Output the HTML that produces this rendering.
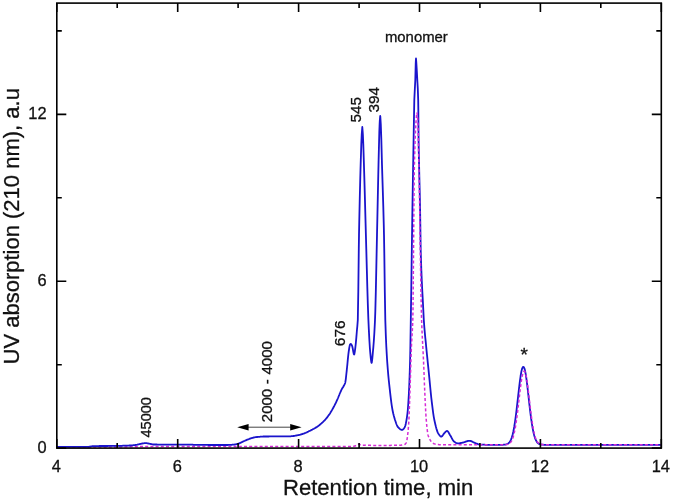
<!DOCTYPE html>
<html><head><meta charset="utf-8"><title>Chromatogram</title>
<style>
html,body{margin:0;padding:0;background:#fff;}
svg{display:block;font-family:"Liberation Sans",Arial,sans-serif;fill:#111;}
text{stroke:#111;stroke-width:0.3px;}
</style></head>
<body>
<svg width="675" height="504" viewBox="0 0 675 504">
<rect width="675" height="504" fill="#fff"/>
<path d="M56.8,447.1 L120.0,447.0 L150.0,446.4 L350.0,446.4 L350.5,446.4 L351.0,446.4 L351.5,446.4 L352.0,446.4 L352.5,446.4 L353.0,446.3 L353.5,446.3 L354.0,446.2 L354.5,446.1 L355.0,446.0 L355.5,445.8 L356.0,445.4 L356.5,445.1 L357.0,444.7 L357.3,444.6 L357.5,444.5 L358.0,444.4 L358.5,444.2 L359.0,444.2 L359.5,444.3 L360.0,444.6 L360.5,444.9 L361.0,445.1 L361.5,445.1 L362.0,445.1 L362.5,445.2 L363.0,445.2 L363.5,445.2 L364.0,445.2 L364.5,445.2 L365.0,445.2 L365.5,445.2 L366.0,445.3 L366.5,445.3 L367.0,445.3 L367.5,445.3 L368.0,445.3 L368.5,445.3 L369.0,445.3 L369.5,445.3 L370.0,445.3 L370.5,445.3 L371.0,445.4 L371.5,445.4 L372.0,445.4 L372.5,445.4 L373.0,445.4 L373.5,445.4 L374.0,445.4 L374.5,445.4 L375.0,445.4 L375.5,445.4 L376.0,445.4 L376.5,445.4 L377.0,445.4 L377.5,445.4 L378.0,445.4 L378.5,445.4 L379.0,445.4 L379.5,445.4 L380.0,445.4 L380.5,445.4 L381.0,445.4 L381.5,445.4 L382.0,445.4 L382.5,445.4 L383.0,445.4 L383.5,445.4 L384.0,445.4 L384.5,445.4 L385.0,445.4 L385.5,445.4 L386.0,445.4 L386.5,445.4 L387.0,445.4 L387.5,445.4 L388.0,445.4 L388.5,445.4 L389.0,445.4 L389.5,445.4 L390.0,445.4 L390.5,445.4 L391.0,445.3 L391.5,445.3 L392.0,445.3 L392.5,445.3 L393.0,445.3 L393.5,445.3 L394.0,445.3 L394.5,445.3 L395.0,445.3 L395.5,445.3 L396.0,445.3 L396.5,445.3 L397.0,445.3 L397.5,445.3 L398.0,445.2 L398.5,445.2 L399.0,445.2 L399.5,445.2 L400.0,445.2 L400.5,445.2 L401.0,445.2 L401.5,445.1 L402.0,445.1 L402.5,445.0 L403.0,444.9 L403.5,444.9 L404.0,444.7 L404.5,444.6 L404.6,444.6" fill="none" stroke="#d62cd6" stroke-width="1.5" stroke-dasharray="3 2.2"/>
<path d="M56.8,446.8 L57.3,446.8 L57.8,446.8 L58.3,446.8 L58.8,446.8 L59.3,446.8 L59.8,446.8 L60.3,446.8 L60.8,446.8 L61.3,446.8 L61.8,446.8 L62.3,446.8 L62.8,446.8 L63.3,446.8 L63.8,446.8 L64.3,446.8 L64.8,446.8 L65.3,446.8 L65.8,446.8 L66.3,446.8 L66.8,446.8 L67.3,446.8 L67.8,446.8 L68.3,446.8 L68.8,446.8 L69.3,446.8 L69.8,446.8 L70.3,446.8 L70.8,446.8 L71.3,446.8 L71.8,446.8 L72.3,446.8 L72.8,446.8 L73.3,446.8 L73.8,446.8 L74.3,446.8 L74.8,446.8 L75.3,446.8 L75.8,446.8 L76.3,446.8 L76.8,446.8 L77.3,446.8 L77.8,446.8 L78.3,446.8 L78.8,446.8 L79.3,446.8 L79.8,446.8 L80.3,446.8 L80.8,446.8 L81.3,446.8 L81.8,446.8 L82.3,446.8 L82.8,446.8 L83.3,446.8 L83.8,446.8 L84.3,446.8 L84.8,446.8 L85.3,446.8 L85.8,446.8 L86.3,446.8 L86.8,446.8 L87.3,446.8 L87.8,446.8 L88.0,446.8 L88.3,446.8 L88.8,446.8 L89.3,446.7 L89.8,446.6 L90.3,446.6 L90.8,446.5 L91.3,446.4 L91.8,446.3 L92.3,446.2 L92.8,446.2 L93.0,446.2 L93.3,446.2 L93.8,446.2 L94.3,446.2 L94.8,446.1 L95.3,446.1 L95.8,446.1 L96.3,446.1 L96.8,446.1 L97.3,446.1 L97.8,446.1 L98.3,446.1 L98.8,446.1 L99.3,446.0 L99.8,446.0 L100.3,446.0 L100.8,446.0 L101.3,446.0 L101.8,446.0 L102.3,446.0 L102.8,446.0 L103.3,446.0 L103.8,446.0 L104.3,446.0 L104.8,446.0 L105.3,446.0 L105.8,446.0 L106.3,446.0 L106.8,446.0 L107.3,446.0 L107.8,446.0 L108.3,445.9 L108.8,445.9 L109.3,445.9 L109.8,445.9 L110.3,445.9 L110.8,445.9 L111.3,445.9 L111.8,445.9 L112.3,445.9 L112.8,445.9 L113.3,445.9 L113.8,445.9 L114.3,445.9 L114.8,445.9 L115.3,445.9 L115.8,445.9 L116.3,445.9 L116.8,445.9 L117.3,445.8 L117.8,445.8 L118.3,445.8 L118.8,445.8 L119.3,445.8 L119.8,445.8 L120.0,445.8 L120.3,445.8 L120.8,445.8 L121.3,445.8 L121.8,445.8 L122.3,445.8 L122.8,445.7 L123.3,445.7 L123.8,445.7 L124.3,445.7 L124.8,445.7 L125.3,445.7 L125.8,445.7 L126.3,445.6 L126.8,445.6 L127.3,445.6 L127.8,445.6 L128.3,445.6 L128.8,445.6 L129.3,445.5 L129.8,445.5 L130.0,445.5 L130.3,445.5 L130.8,445.5 L131.3,445.4 L131.8,445.4 L132.3,445.3 L132.8,445.3 L133.3,445.2 L133.8,445.2 L134.3,445.1 L134.8,445.1 L135.3,445.0 L135.8,444.9 L136.0,444.9 L136.3,444.9 L136.8,444.8 L137.3,444.7 L137.8,444.5 L138.3,444.4 L138.8,444.3 L139.3,444.2 L139.8,444.1 L140.3,443.9 L140.8,443.8 L141.0,443.8 L141.3,443.7 L141.8,443.6 L142.3,443.5 L142.8,443.4 L143.3,443.3 L143.8,443.3 L144.3,443.2 L144.8,443.1 L145.3,443.1 L145.5,443.1 L145.8,443.1 L146.3,443.1 L146.8,443.2 L147.3,443.3 L147.8,443.4 L148.3,443.5 L148.8,443.6 L149.3,443.7 L149.8,443.8 L150.0,443.8 L150.3,443.9 L150.8,444.0 L151.3,444.1 L151.8,444.2 L152.3,444.3 L152.8,444.4 L153.3,444.5 L153.8,444.5 L154.0,444.5 L154.3,444.5 L154.8,444.5 L155.3,444.5 L155.8,444.5 L156.3,444.5 L156.8,444.5 L157.3,444.6 L157.8,444.6 L158.3,444.6 L158.8,444.6 L159.3,444.6 L159.8,444.6 L160.3,444.6 L160.8,444.6 L161.3,444.6 L161.8,444.6 L162.3,444.6 L162.8,444.6 L163.3,444.6 L163.8,444.6 L164.3,444.6 L164.8,444.6 L165.0,444.6 L165.3,444.6 L165.8,444.6 L166.3,444.6 L166.8,444.6 L167.3,444.6 L167.8,444.6 L168.3,444.6 L168.8,444.6 L169.3,444.6 L169.8,444.6 L170.3,444.6 L170.8,444.6 L171.3,444.6 L171.8,444.6 L172.3,444.6 L172.8,444.6 L173.3,444.6 L173.8,444.6 L174.3,444.6 L174.8,444.6 L175.3,444.6 L175.8,444.6 L176.3,444.6 L176.8,444.6 L177.3,444.6 L177.8,444.6 L178.3,444.6 L178.8,444.6 L179.3,444.6 L179.8,444.6 L180.3,444.6 L180.8,444.6 L181.3,444.6 L181.8,444.6 L182.3,444.6 L182.8,444.6 L183.3,444.6 L183.8,444.6 L184.3,444.6 L184.8,444.6 L185.0,444.6 L185.3,444.6 L185.8,444.6 L186.3,444.6 L186.8,444.6 L187.3,444.6 L187.8,444.6 L188.3,444.6 L188.8,444.6 L189.3,444.7 L189.8,444.7 L190.3,444.7 L190.8,444.7 L191.3,444.7 L191.8,444.7 L192.3,444.7 L192.8,444.7 L193.3,444.8 L193.8,444.8 L194.3,444.8 L194.8,444.8 L195.3,444.8 L195.8,444.8 L196.3,444.8 L196.8,444.9 L197.3,444.9 L197.8,444.9 L198.3,444.9 L198.8,444.9 L199.3,444.9 L199.8,444.9 L200.0,444.9 L200.3,444.9 L200.8,444.9 L201.3,444.9 L201.8,444.9 L202.3,444.9 L202.8,444.9 L203.3,444.9 L203.8,444.9 L204.3,444.9 L204.8,444.9 L205.3,444.9 L205.8,444.9 L206.3,444.9 L206.8,444.9 L207.3,444.9 L207.8,444.9 L208.3,445.0 L208.8,445.0 L209.3,445.0 L209.8,445.0 L210.3,445.0 L210.8,445.0 L211.3,445.0 L211.8,445.0 L212.3,445.0 L212.8,445.0 L213.3,445.0 L213.8,445.0 L214.3,445.0 L214.8,445.0 L215.3,445.0 L215.8,445.0 L216.3,445.0 L216.8,445.0 L217.3,445.0 L217.8,445.0 L218.3,445.0 L218.8,445.0 L219.3,445.0 L219.8,445.0 L220.3,445.0 L220.8,445.0 L221.3,445.0 L221.8,445.0 L222.3,445.0 L222.8,445.0 L223.3,445.0 L223.8,445.0 L224.3,445.0 L224.8,445.0 L225.0,445.0 L225.3,445.0 L225.8,445.0 L226.3,445.0 L226.8,445.0 L227.3,445.0 L227.8,445.0 L228.3,444.9 L228.8,444.9 L229.3,444.9 L229.8,444.9 L230.3,444.9 L230.8,444.8 L231.3,444.8 L231.8,444.8 L232.3,444.7 L232.8,444.7 L233.0,444.7 L233.3,444.7 L233.8,444.6 L234.3,444.6 L234.8,444.5 L235.3,444.4 L235.8,444.3 L236.3,444.2 L236.8,444.1 L237.3,444.0 L237.8,443.9 L238.0,443.8 L238.3,443.7 L238.8,443.6 L239.3,443.4 L239.8,443.1 L240.3,442.9 L240.8,442.7 L241.3,442.4 L241.8,442.2 L242.3,441.9 L242.8,441.7 L243.0,441.6 L243.3,441.5 L243.8,441.2 L244.3,441.0 L244.8,440.8 L245.3,440.5 L245.8,440.3 L246.3,440.1 L246.8,439.9 L247.3,439.7 L247.8,439.4 L248.3,439.3 L248.8,439.1 L249.0,439.0 L249.3,438.9 L249.8,438.7 L250.3,438.6 L250.8,438.4 L251.3,438.2 L251.8,438.1 L252.3,437.9 L252.8,437.8 L253.3,437.6 L253.8,437.5 L254.3,437.4 L254.8,437.3 L255.3,437.2 L255.5,437.2 L255.8,437.2 L256.3,437.1 L256.8,437.0 L257.3,437.0 L257.8,436.9 L258.3,436.9 L258.8,436.8 L259.3,436.8 L259.8,436.8 L260.3,436.7 L260.8,436.7 L261.3,436.7 L261.8,436.6 L262.3,436.6 L262.8,436.6 L263.3,436.5 L263.8,436.5 L264.3,436.5 L264.8,436.5 L265.0,436.5 L265.3,436.5 L265.8,436.5 L266.3,436.5 L266.8,436.5 L267.3,436.5 L267.8,436.5 L268.3,436.5 L268.8,436.5 L269.3,436.4 L269.8,436.4 L270.3,436.4 L270.8,436.4 L271.3,436.4 L271.8,436.4 L272.3,436.4 L272.8,436.4 L273.3,436.4 L273.8,436.4 L274.3,436.4 L274.8,436.4 L275.3,436.4 L275.8,436.4 L276.3,436.4 L276.8,436.4 L277.3,436.4 L277.8,436.4 L278.3,436.4 L278.8,436.4 L279.3,436.4 L279.8,436.4 L280.3,436.4 L280.8,436.4 L281.3,436.4 L281.8,436.4 L282.3,436.4 L282.8,436.4 L283.3,436.4 L283.8,436.4 L284.3,436.4 L284.8,436.4 L285.3,436.4 L285.8,436.4 L286.3,436.4 L286.8,436.3 L287.3,436.3 L287.8,436.3 L288.3,436.3 L288.8,436.3 L289.3,436.3 L289.8,436.3 L290.0,436.3 L290.3,436.3 L290.8,436.3 L291.3,436.2 L291.8,436.2 L292.3,436.2 L292.8,436.1 L293.3,436.0 L293.8,436.0 L294.3,435.9 L294.8,435.8 L295.3,435.7 L295.8,435.6 L296.3,435.5 L296.8,435.4 L297.3,435.3 L297.8,435.2 L298.3,435.1 L298.5,435.1 L298.8,435.0 L299.3,434.9 L299.8,434.8 L300.3,434.7 L300.8,434.5 L301.3,434.4 L301.8,434.2 L302.3,434.1 L302.8,433.9 L303.3,433.7 L303.8,433.6 L304.0,433.5 L304.3,433.4 L304.8,433.2 L305.3,433.0 L305.8,432.8 L306.3,432.5 L306.8,432.3 L307.3,432.1 L307.8,431.8 L308.3,431.6 L308.8,431.3 L309.3,431.0 L309.6,430.9 L309.8,430.8 L310.3,430.6 L310.8,430.3 L311.3,430.1 L311.8,429.8 L312.3,429.6 L312.8,429.3 L313.3,429.0 L313.8,428.8 L314.3,428.5 L314.8,428.2 L315.3,427.9 L315.8,427.7 L316.3,427.3 L316.8,427.0 L317.0,426.9 L317.3,426.7 L317.8,426.3 L318.3,426.0 L318.8,425.6 L319.3,425.2 L319.8,424.8 L320.3,424.3 L320.8,423.9 L321.3,423.5 L321.5,423.3 L321.8,423.0 L322.3,422.6 L322.8,422.2 L323.3,421.7 L323.8,421.2 L324.3,420.7 L324.4,420.6 L324.8,420.2 L325.3,419.6 L325.8,419.0 L326.3,418.4 L326.8,417.8 L327.3,417.2 L327.8,416.5 L328.3,415.8 L328.8,415.1 L328.9,415.0 L329.3,414.4 L329.8,413.7 L330.3,412.9 L330.8,412.0 L331.3,411.2 L331.8,410.3 L332.0,410.0 L332.3,409.5 L332.8,408.6 L333.3,407.7 L333.8,406.8 L334.3,405.9 L334.8,404.9 L335.3,403.9 L335.5,403.5 L335.8,402.9 L336.3,401.8 L336.8,400.7 L337.3,399.6 L337.8,398.5 L338.0,398.0 L338.3,397.3 L338.8,396.0 L339.3,394.8 L339.8,393.5 L340.2,392.6 L340.3,392.4 L340.8,391.3 L341.3,390.2 L341.8,389.2 L342.0,388.8 L342.3,388.3 L342.8,387.5 L343.3,386.7 L343.8,385.8 L344.3,384.9 L344.8,383.9 L345.2,382.8 L345.3,382.4 L345.8,379.1 L346.3,374.5 L346.7,370.8 L346.8,369.9 L347.3,365.0 L347.8,359.7 L348.3,354.9 L348.7,351.7 L348.8,351.0 L349.3,347.6 L349.8,345.1 L350.0,344.6 L350.3,344.2 L350.7,343.9 L350.8,343.9 L351.3,344.4 L351.8,345.3 L352.2,346.2 L352.3,346.5 L352.8,348.8 L353.3,351.8 L353.8,354.1 L354.1,354.6 L354.3,354.3 L354.8,351.7 L355.3,347.8 L355.4,347.0 L355.8,343.4 L356.3,337.9 L356.8,331.8 L357.0,329.5 L357.3,326.5 L357.8,320.0 L358.3,291.3 L358.8,248.3 L359.0,235.0 L359.3,219.5 L359.8,196.7 L360.3,177.1 L360.5,170.0 L360.8,159.7 L361.3,144.1 L361.7,135.0 L361.8,133.2 L362.3,127.0 L362.8,133.2 L362.9,135.0 L363.3,144.4 L363.8,160.1 L364.1,170.0 L364.3,176.6 L364.8,194.4 L365.3,213.1 L365.8,231.5 L365.9,235.0 L366.3,249.5 L366.8,268.3 L367.3,286.7 L367.8,303.5 L368.3,317.6 L368.4,320.0 L368.8,328.9 L369.3,338.8 L369.8,347.0 L370.2,352.0 L370.3,353.1 L370.8,358.4 L371.3,362.2 L371.6,362.9 L371.8,362.5 L372.3,358.7 L372.8,353.1 L372.9,352.0 L373.3,347.6 L373.8,341.3 L374.3,333.7 L374.8,324.3 L375.0,320.0 L375.3,311.7 L375.8,292.2 L376.3,268.5 L376.8,244.2 L377.0,235.0 L377.3,221.1 L377.8,196.9 L378.3,173.5 L378.5,165.0 L378.8,152.3 L379.3,132.6 L379.6,124.5 L379.8,120.6 L380.2,116.0 L380.3,116.4 L380.8,124.5 L381.3,138.8 L381.8,157.8 L382.0,165.0 L382.3,174.9 L382.8,190.6 L383.3,207.0 L383.8,226.1 L384.0,235.0 L384.3,252.9 L384.8,291.0 L385.3,320.0 L385.8,334.9 L386.3,346.3 L386.8,355.3 L387.1,360.0 L387.3,362.9 L387.8,369.5 L388.3,375.3 L388.8,380.5 L389.3,385.2 L389.8,389.7 L390.3,394.1 L390.8,398.3 L391.3,402.3 L391.8,405.8 L392.3,408.9 L392.5,410.0 L392.8,411.5 L393.3,413.8 L393.8,415.8 L394.3,417.6 L394.8,419.3 L395.2,420.5 L395.3,420.8 L395.8,422.3 L396.3,423.7 L396.8,425.0 L397.3,426.1 L397.8,426.9 L397.9,427.0 L398.3,427.4 L398.8,428.0 L399.3,428.4 L399.8,428.9 L400.3,429.3 L400.8,429.5 L401.3,429.8 L401.8,429.9 L402.1,429.9 L402.3,429.9 L402.8,429.7 L403.3,429.2 L403.8,428.6 L404.3,427.9 L404.7,427.2 L404.8,427.0 L405.3,425.7 L405.8,423.7 L406.3,421.1 L406.8,418.1 L407.3,414.6 L407.4,413.8 L407.8,410.0 L408.3,403.3 L408.8,395.0 L409.3,384.5 L409.8,370.5 L410.1,360.0 L410.3,350.7 L410.8,320.0 L411.3,286.7 L411.8,250.9 L412.3,216.4 L412.4,210.0 L412.8,185.8 L413.3,157.1 L413.6,140.0 L413.8,127.4 L414.3,100.0 L414.8,89.7 L415.3,80.0 L415.7,64.0 L415.8,61.5 L416.0,58.5 L416.3,62.3 L416.4,64.0 L416.8,70.6 L417.3,80.0 L417.8,88.7 L418.2,100.0 L418.3,107.2 L418.6,140.0 L418.8,152.4 L419.3,175.3 L419.8,195.2 L420.1,210.0 L420.3,223.7 L420.7,250.0 L420.8,253.7 L421.3,269.4 L421.8,281.4 L422.3,291.2 L422.8,300.3 L423.3,310.0 L423.8,320.0 L424.3,326.9 L424.8,332.7 L425.3,337.8 L425.8,342.7 L426.2,346.8 L426.3,347.8 L426.8,353.0 L427.3,357.9 L427.8,362.8 L428.3,367.7 L428.8,372.6 L428.9,373.6 L429.3,377.6 L429.8,382.8 L430.3,388.0 L430.8,393.1 L431.3,397.8 L431.6,400.4 L431.8,402.1 L432.3,406.2 L432.8,410.2 L433.3,413.8 L433.8,417.1 L434.2,419.2 L434.3,419.7 L434.8,422.0 L435.3,424.2 L435.8,426.3 L436.3,428.2 L436.8,429.9 L437.3,431.4 L437.8,432.6 L438.3,433.5 L438.8,434.3 L439.3,435.0 L439.8,435.6 L440.3,436.1 L440.8,436.5 L441.3,436.6 L441.8,436.4 L442.3,436.0 L442.8,435.3 L443.3,434.6 L443.8,433.8 L444.3,433.2 L444.5,433.0 L444.8,432.7 L445.3,432.1 L445.8,431.6 L446.3,431.2 L446.8,430.9 L447.0,430.9 L447.3,431.0 L447.8,431.4 L448.3,432.0 L448.8,432.8 L449.3,433.8 L449.8,434.7 L450.3,435.5 L450.8,436.3 L451.3,437.2 L451.8,438.2 L452.3,439.1 L452.8,440.0 L453.3,440.7 L453.8,441.3 L454.0,441.5 L454.3,441.7 L454.8,442.1 L455.3,442.4 L455.8,442.8 L456.3,443.0 L456.8,443.2 L457.3,443.4 L457.8,443.4 L458.3,443.4 L458.8,443.3 L459.3,443.3 L459.8,443.2 L460.3,443.1 L460.8,443.0 L461.3,442.9 L461.8,442.8 L462.0,442.8 L462.3,442.7 L462.8,442.6 L463.3,442.5 L463.8,442.3 L464.3,442.2 L464.8,442.0 L465.3,441.8 L465.8,441.6 L466.3,441.4 L466.8,441.3 L467.3,441.1 L467.8,441.0 L468.3,440.9 L468.8,440.8 L469.3,440.8 L469.5,440.8 L469.8,440.8 L470.3,440.9 L470.8,441.0 L471.3,441.2 L471.8,441.4 L472.3,441.7 L472.8,441.9 L473.3,442.2 L473.8,442.5 L474.3,442.7 L474.8,442.9 L475.0,443.0 L475.3,443.1 L475.8,443.3 L476.3,443.5 L476.8,443.7 L477.3,443.9 L477.8,444.1 L478.3,444.3 L478.8,444.4 L479.3,444.5 L479.8,444.6 L480.0,444.6 L480.3,444.6 L480.8,444.6 L481.3,444.7 L481.8,444.7 L482.3,444.7 L482.8,444.7 L483.3,444.7 L483.8,444.7 L484.3,444.7 L484.8,444.7 L485.3,444.8 L485.8,444.8 L486.3,444.8 L486.8,444.8 L487.3,444.8 L487.8,444.8 L488.3,444.8 L488.8,444.8 L489.3,444.8 L489.8,444.8 L490.0,444.8 L490.3,444.8 L490.8,444.8 L491.3,444.8 L491.8,444.8 L492.3,444.8 L492.8,444.8 L493.3,444.8 L493.8,444.8 L494.3,444.8 L494.8,444.8 L495.3,444.8 L495.8,444.8 L496.3,444.8 L496.8,444.8 L497.3,444.8 L497.8,444.8 L498.3,444.8 L498.8,444.8 L499.3,444.8 L499.8,444.8 L500.0,444.8 L500.5,444.8 L501.3,444.8 L502.1,444.8 L502.9,444.8 L503.7,444.7 L504.5,444.7 L505.3,444.6 L506.1,444.4 L506.9,444.1 L507.7,443.7 L508.6,443.2 L509.4,442.3 L510.2,441.2 L511.0,439.6 L511.8,437.5 L512.6,434.7 L513.4,431.2 L514.2,427.0 L515.0,421.9 L515.8,416.1 L516.6,409.7 L517.4,402.7 L518.2,395.5 L519.0,388.5 L519.8,381.8 L520.6,376.0 L521.4,371.4 L522.2,368.3 L523.0,366.8 L523.8,367.1 L524.7,369.2 L525.5,372.9 L526.3,378.0 L527.1,384.1 L527.9,391.0 L528.7,398.1 L529.5,405.3 L530.3,412.1 L531.1,418.3 L531.9,423.9 L532.7,428.6 L533.5,432.6 L534.3,435.8 L535.1,438.3 L535.9,440.2 L536.7,441.6 L537.5,442.7 L538.3,443.4 L539.1,443.9 L539.9,444.2 L540.8,444.5 L541.6,444.6 L542.4,444.7 L543.2,444.7 L544.0,444.8 L544.8,444.8 L545.6,444.8 L546.4,444.8 L547.2,444.8 L548.0,444.8 L661.3,444.8" fill="none" stroke="#1a14cc" stroke-width="1.8" stroke-linejoin="round"/>
<path d="M404.6,444.6 L405.0,444.4 L405.5,443.9 L406.0,443.1 L406.3,442.5 L406.5,441.9 L407.0,439.6 L407.4,437.0 L407.5,436.3 L408.0,432.0 L408.5,426.2 L408.8,421.9 L409.0,418.2 L409.5,405.1 L410.0,389.9 L410.1,387.0 L410.5,374.4 L411.0,358.0 L411.4,346.8 L411.5,344.6 L412.0,336.3 L412.5,327.9 L412.8,320.0 L413.0,309.0 L413.5,254.2 L414.0,192.9 L414.3,170.0 L414.5,161.2 L415.0,143.2 L415.5,130.4 L415.8,125.0 L416.0,122.0 L416.5,115.4 L417.0,112.5 L417.5,116.3 L418.0,125.0 L418.5,143.7 L419.0,170.0 L419.5,198.4 L420.0,231.1 L420.5,264.4 L421.0,294.3 L421.5,316.7 L421.6,320.0 L422.0,330.6 L422.5,340.9 L423.0,350.0 L423.5,360.2 L424.0,372.6 L424.5,385.6 L424.9,395.0 L425.0,397.1 L425.5,407.6 L426.0,416.5 L426.2,419.2 L426.5,422.7 L427.0,427.9 L427.5,432.0 L428.0,434.9 L428.1,435.3 L428.5,436.6 L429.0,437.9 L429.5,438.9 L430.0,439.7 L430.2,440.0 L430.5,440.5 L431.0,441.2 L431.5,441.8 L432.0,442.4 L432.5,442.9 L433.0,443.2 L433.5,443.5 L434.0,443.7 L434.5,443.9 L435.0,444.1 L435.5,444.2 L436.0,444.3 L436.5,444.4 L437.0,444.5 L437.5,444.6 L438.0,444.6 L438.5,444.6 L439.0,444.7 L439.5,444.7 L440.0,444.7 L440.5,444.8 L441.0,444.8 L441.5,444.8 L442.0,444.8 L442.5,444.8 L443.0,444.8 L443.5,444.8 L444.0,444.8 L444.5,444.8 L500.0,444.8 L500.5,444.8 L501.3,444.8 L502.1,444.8 L502.9,444.8 L503.7,444.8 L504.5,444.7 L505.3,444.7 L506.1,444.6 L506.9,444.5 L507.7,444.3 L508.6,444.0 L509.4,443.5 L510.2,442.9 L511.0,441.9 L511.8,440.6 L512.6,438.7 L513.4,436.3 L514.2,433.2 L515.0,429.4 L515.8,424.8 L516.6,419.4 L517.4,413.4 L518.2,406.8 L519.0,399.9 L519.8,393.0 L520.6,386.5 L521.4,380.7 L522.2,376.1 L523.0,372.8 L523.8,371.2 L524.7,371.3 L525.5,373.1 L526.3,376.6 L527.1,381.4 L527.9,387.3 L528.7,393.9 L529.5,400.8 L530.3,407.6 L531.1,414.1 L531.9,420.1 L532.7,425.4 L533.5,429.9 L534.3,433.7 L535.1,436.7 L535.9,439.0 L536.7,440.7 L537.5,442.0 L538.3,443.0 L539.1,443.6 L539.9,444.0 L540.8,444.3 L541.6,444.5 L542.4,444.6 L543.2,444.7 L544.0,444.7 L544.8,444.8 L545.6,444.8 L546.4,444.8 L547.2,444.8 L548.0,444.8 L661.3,444.8" fill="none" stroke="#d62cd6" stroke-width="1.5" stroke-dasharray="3 2.2"/>
<rect x="56.8" y="3.1" width="604.5" height="445.0" fill="none" stroke="#000" stroke-width="1.6"/>
<path d="M56.8,448.1 v-9 M56.8,3.1 v9 M117.2,448.1 v-5 M117.2,3.1 v5 M177.7,448.1 v-9 M177.7,3.1 v9 M238.1,448.1 v-5 M238.1,3.1 v5 M298.6,448.1 v-9 M298.6,3.1 v9 M359.1,448.1 v-5 M359.1,3.1 v5 M419.5,448.1 v-9 M419.5,3.1 v9 M479.9,448.1 v-5 M479.9,3.1 v5 M540.4,448.1 v-9 M540.4,3.1 v9 M600.8,448.1 v-5 M600.8,3.1 v5 M661.3,448.1 v-9 M661.3,3.1 v9 M56.8,448.1 h9.5 M661.3,448.1 h-9.5 M56.8,364.7 h5 M661.3,364.7 h-5 M56.8,281.2 h9.5 M661.3,281.2 h-9.5 M56.8,197.8 h5 M661.3,197.8 h-5 M56.8,114.4 h9.5 M661.3,114.4 h-9.5 M56.8,30.9 h5 M661.3,30.9 h-5" fill="none" stroke="#000" stroke-width="1.6"/>
<g font-size="16.4"><text x="56.3" y="472" text-anchor="middle">4</text><text x="177.2" y="472" text-anchor="middle">6</text><text x="298.1" y="472" text-anchor="middle">8</text><text x="419.0" y="472" text-anchor="middle">10</text><text x="539.9" y="472" text-anchor="middle">12</text><text x="660.8" y="472" text-anchor="middle">14</text><text x="46.6" y="452.5" text-anchor="end">0</text><text x="46.6" y="285.6" text-anchor="end">6</text><text x="46.6" y="118.8" text-anchor="end">12</text></g>
<text x="378.1" y="495.2" text-anchor="middle" font-size="22.1">Retention time, min</text>
<text transform="translate(18.8,226.3) rotate(-90)" text-anchor="middle" font-size="22">UV absorption (210 nm), a.u</text>
<text x="416.4" y="42.4" text-anchor="middle" font-size="14.9">monomer</text>
<text x="524.1" y="360.8" text-anchor="middle" font-size="19">*</text>
<text transform="translate(151.2,437.6) rotate(-90)" font-size="14.6">45000</text>
<text transform="translate(271.8,422.2) rotate(-90)" font-size="15" word-spacing="0.5">2000 - 4000</text>
<text transform="translate(344.7,346.2) rotate(-90)" font-size="15.5">676</text>
<text transform="translate(360.7,122.6) rotate(-90)" font-size="15.3">545</text>
<text transform="translate(378.7,112.6) rotate(-90)" font-size="15.3">394</text>
<g stroke="#444" stroke-width="1" fill="#000">
<line x1="245" y1="427.2" x2="294" y2="427.2"/>
<path d="M237.2,427.2 l11.4,-3.3 v6.6 z M301.6,427.2 l-11.4,-3.3 v6.6 z" stroke="none"/>
</g>
</svg>
</body></html>
